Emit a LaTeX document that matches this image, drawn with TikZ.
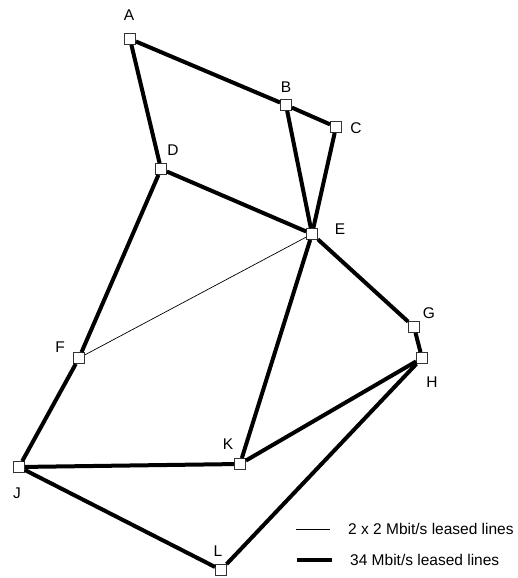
\documentclass[tikz,border=0pt]{standalone}
\usepackage{fontspec}
\setmainfont{Liberation Sans}
\usetikzlibrary{positioning}

\begin{document}
\begin{tikzpicture}[
    x=1pt, y=-1pt,
    router/.style={draw=black!80, fill=white, rectangle, line width=0.8pt, minimum size=11pt, inner sep=0pt},
    lbl/.style={inner sep=0pt, font=\fontsize{15.5}{18}\selectfont},
    fast/.style={line width=4pt},
    slow/.style={line width=0.7pt}
]
\useasboundingbox (0,0) rectangle (517,578);

% Nodes
\node (A) [router] at (130,39) {};
\node (B) [router] at (286,105) {};
\node (C) [router] at (336,127) {};
\node (D) [router] at (161,169) {};
\node (E) [router] at (312,234) {};
\node (F) [router] at (79,358) {};
\node (G) [router] at (414,327) {};
\node (H) [router] at (422,358) {};
\node (J) [router] at (19,467) {};
\node (K) [router] at (240,464) {};
\node (L) [router] at (221,570) {};

% Labels
\node (A_l) [lbl] at (129,15) {A};
\node (B_l) [lbl] at (286,87) {B};
\node (C_l) [lbl] at (356,128) {C};
\node (D_l) [lbl] at (173,150) {D};
\node (E_l) [lbl] at (340,229) {E};
\node (F_l) [lbl] at (60,347) {F};
\node (G_l) [lbl] at (429,313) {G};
\node (H_l) [lbl] at (432,382) {H};
\node (J_l) [lbl] at (17,493) {J};
\node (K_l) [lbl] at (228,444) {K};
\node (L_l) [lbl] at (218,551) {L};

% Edges
\draw[fast] (A) -- (B);
\draw[fast] (B) -- (C);
\draw[fast] (A) -- (D);
\draw[fast] (B) -- (E);
\draw[fast] (C) -- (E);
\draw[fast] (D) -- (E);
\draw[fast] (D) -- (F);
\draw[slow] (E) -- (F);
\draw[fast] (E) -- (G);
\draw[fast] (G) -- (H);
\draw[fast] (E) -- (K);
\draw[fast] (F) -- (J);
\draw[fast] (J) -- (K);
\draw[fast] (K) -- (H);
\draw[fast] (J) -- (L);
\draw[fast] (L) -- (H);

% Legend
\coordinate (slow_a) at (296,529);
\coordinate (slow_b) at (330,529);
\coordinate (fast_a) at (297,560);
\coordinate (fast_b) at (332,560);
\draw[slow] (slow_a) -- (slow_b);
\draw[fast] (fast_a) -- (fast_b);
\node (slow_t) [lbl, anchor=west] at (348,529) {2 x 2 Mbit/s leased lines};
\node (fast_t) [lbl, anchor=west] at (350,560) {34 Mbit/s leased lines};

\end{tikzpicture}
\end{document}
